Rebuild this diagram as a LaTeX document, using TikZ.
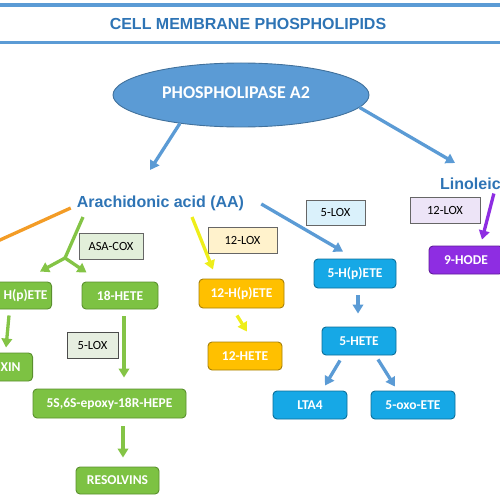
\documentclass[tikz,border=0pt]{standalone}
\usepackage{fontspec}
\setmainfont{Carlito}
\newfontfamily\arialf{Liberation Sans}
\usetikzlibrary{arrows.meta,shapes.geometric,calc}
\definecolor{titleblue}{HTML}{2E74B5}
\definecolor{lineblue}{HTML}{5B9BD5}
\definecolor{ellborder}{HTML}{41719C}
\definecolor{gfill}{HTML}{7DC243}
\definecolor{gborder}{HTML}{5A8F2E}
\definecolor{garrow}{HTML}{84C446}
\definecolor{yfill}{HTML}{FFC000}
\definecolor{yborder}{HTML}{A5800A}
\definecolor{yarrow}{HTML}{EEEE1A}
\definecolor{bfill}{HTML}{16A8E6}
\definecolor{bborder}{HTML}{0B6E99}
\definecolor{pfill}{HTML}{8E2DE2}
\definecolor{pborder}{HTML}{5E1A99}
\definecolor{orangec}{HTML}{F39C26}
\definecolor{eblue}{HTML}{DAF1FB}
\definecolor{eyellow}{HTML}{FFF2CC}
\definecolor{egreen}{HTML}{E2EFDA}
\definecolor{egreen2}{HTML}{E6EEE0}
\definecolor{epurple}{HTML}{EDE4F7}
\tikzset{
  prodbox/.style={rounded corners=4pt, line width=0.9pt, text=white,
    font=\fontsize{13.5}{15}\selectfont\bfseries, inner sep=0pt},
  gbox/.style={prodbox, fill=gfill, draw=gborder},
  ybox/.style={prodbox, fill=yfill, draw=yborder},
  bbox/.style={prodbox, fill=bfill, draw=bborder},
  pbox/.style={prodbox, fill=pfill, draw=pborder},
  enzbox/.style={draw=gray!80!black, line width=0.8pt, text=black,
    font=\fontsize{12.5}{14}\selectfont, inner sep=0pt},
  arr/.style={line width=3.3pt, arrows={-Triangle[length=9pt,width=10.5pt]}},
  barr/.style={arr, draw=lineblue, fill=lineblue},
  garr/.style={arr, draw=garrow, fill=garrow},
  yarr/.style={arr, draw=yarrow, fill=yarrow},
  parr/.style={arr, draw=pfill, fill=pfill},
}
\begin{document}
\begin{tikzpicture}[x=1pt,y=-1pt]
\useasboundingbox (0,0) rectangle (500,500);
\clip (0,0) rectangle (500,500);
% title
\draw[lineblue, line width=3.2pt] (0,5) -- (500,5);
\draw[lineblue, line width=3.2pt] (0,42.5) -- (500,42.5);
\node[text=titleblue, font=\arialf\bfseries\fontsize{16}{18}\selectfont] (title) at (248,24) {CELL MEMBRANE PHOSPHOLIPIDS};
% ellipse
\node[ellipse, fill=lineblue, draw=ellborder, line width=0.9pt, minimum width=256pt, minimum height=64pt, inner sep=0pt] (pla) at (241,95) {};
\node[text=white, font=\fontsize{18}{20}\selectfont\bfseries] (platext) at (236,93) {PHOSPHOLIPASE A2};
% acids
\node[text=titleblue, font=\arialf\bfseries\fontsize{16}{18}\selectfont, inner sep=0pt] (aa) at (160.5,203) {Arachidonic acid (AA)};
\node[text=titleblue, font=\arialf\bfseries\fontsize{16}{18}\selectfont, inner sep=0pt, anchor=west] (lin) at (440,184) {Linoleic};
% enzyme boxes
\node[enzbox, fill=egreen, minimum width=64pt, minimum height=26pt] (asacox) at (111,246) {ASA-COX};
\node[enzbox, fill=egreen2, draw=black!70, minimum width=51pt, minimum height=26pt] (lox5g) at (92.5,345) {5-LOX};
\node[enzbox, fill=eyellow, minimum width=69pt, minimum height=26pt] (lox12y) at (242.5,240) {12-LOX};
\node[enzbox, fill=eblue, minimum width=59pt, minimum height=25pt] (lox5b) at (335.5,212.5) {5-LOX};
\node[enzbox, fill=epurple, minimum width=70pt, minimum height=26pt] (lox12p) at (445,210) {12-LOX};
% product boxes
\node[gbox, anchor=east, text width=74pt, align=right, inner xsep=4pt, minimum height=27pt] (hpete) at (52,295.5) {H(p)ETE};
\node[gbox, anchor=east, text width=60pt, align=right, inner xsep=12pt, minimum height=28pt] (xin) at (33,367) {XIN};
\node[gbox, minimum width=76pt, minimum height=27pt] (hete18) at (120,295.5) {18-HETE};
\node[gbox, minimum width=153pt, minimum height=29pt] (epoxy) at (109.5,403.5) {5S,6S-epoxy-18R-HEPE};
\node[gbox, minimum width=83pt, minimum height=27pt] (resolv) at (117.5,480.5) {RESOLVINS};
\node[ybox, minimum width=85pt, minimum height=29pt] (hpete12) at (241.5,293.5) {12-H(p)ETE};
\node[ybox, minimum width=74pt, minimum height=28pt] (hete12) at (245,356) {12-HETE};
\node[bbox, minimum width=82pt, minimum height=29pt] (hpete5) at (355,273.5) {5-H(p)ETE};
\node[bbox, minimum width=74pt, minimum height=28pt] (hete5) at (359,341) {5-HETE};
\node[bbox, minimum width=74pt, minimum height=28pt] (lta4) at (310,405) {LTA4};
\node[bbox, minimum width=84pt, minimum height=28pt] (oxo) at (413,405) {5-oxo-ETE};
\node[pbox, minimum width=74pt, minimum height=28pt] (hode) at (466,260) {9-HODE};
% free ends
\coordinate (aaIn) at (150,170);
\coordinate (linIn) at (455,163);
\coordinate (orangeEnd) at (-10,244.5);
\coordinate (split) at (65,258);
% connectors
\draw[barr] (pla.205) -- (aaIn);
\draw[barr] (pla.354) -- (linIn);
\draw[orangec, line width=3.3pt] ($(aa.west)+(-6,5)$) -- (orangeEnd);
\draw[garrow, line width=3.3pt] ($(aa.center)+(-77.5,14)$) -- (split);
\draw[garr] (split) -- ($(hpete.north east)+(-12,-10)$);
\draw[garr] (split) -- ($(hete18.north west)+(5,-9)$);
\draw[yarr] ($(aa.center)+(31.5,14)$) -- ($(hpete12.north)+(-28.5,-9)$);
\draw[barr] ($(aa.east)+(17,1)$) -- ($(hpete5.north)+(-12,-7)$);
\draw[parr] ($(lin.south east)+(-7,3.5)$) -- ($(hode.north)+(16,-6)$);
\draw[garr] ($(hpete.south -| 9,0)+(0,6)$) -- ($(xin.north -| 6,0)+(0,-5)$);
\draw[garr] ($(hete18.south -| 124,0)+(0,7)$) -- ($(epoxy.north -| 124,0)+(0,-11)$);
\draw[garr] ($(epoxy.south -| 123,0)+(0,8)$) -- ($(resolv.north -| 123,0)+(0,-9)$);
\draw[yarr] ($(hpete12.south -| 237,0)+(0,7)$) -- ($(hete12.north -| 247,0)+(0,-10)$);
\draw[barr] ($(hpete5.south -| 358,0)+(0,7)$) -- ($(hete5.north -| 358,0)+(0,-13)$);
\draw[barr] ($(hete5.south -| 340,0)+(0,5)$) -- ($(lta4.north -| 325,0)+(0,-5)$);
\draw[barr] ($(hete5.south -| 378,0)+(0,4)$) -- ($(oxo.north -| 395,0)+(0,-4)$);
\end{tikzpicture}
\end{document}
